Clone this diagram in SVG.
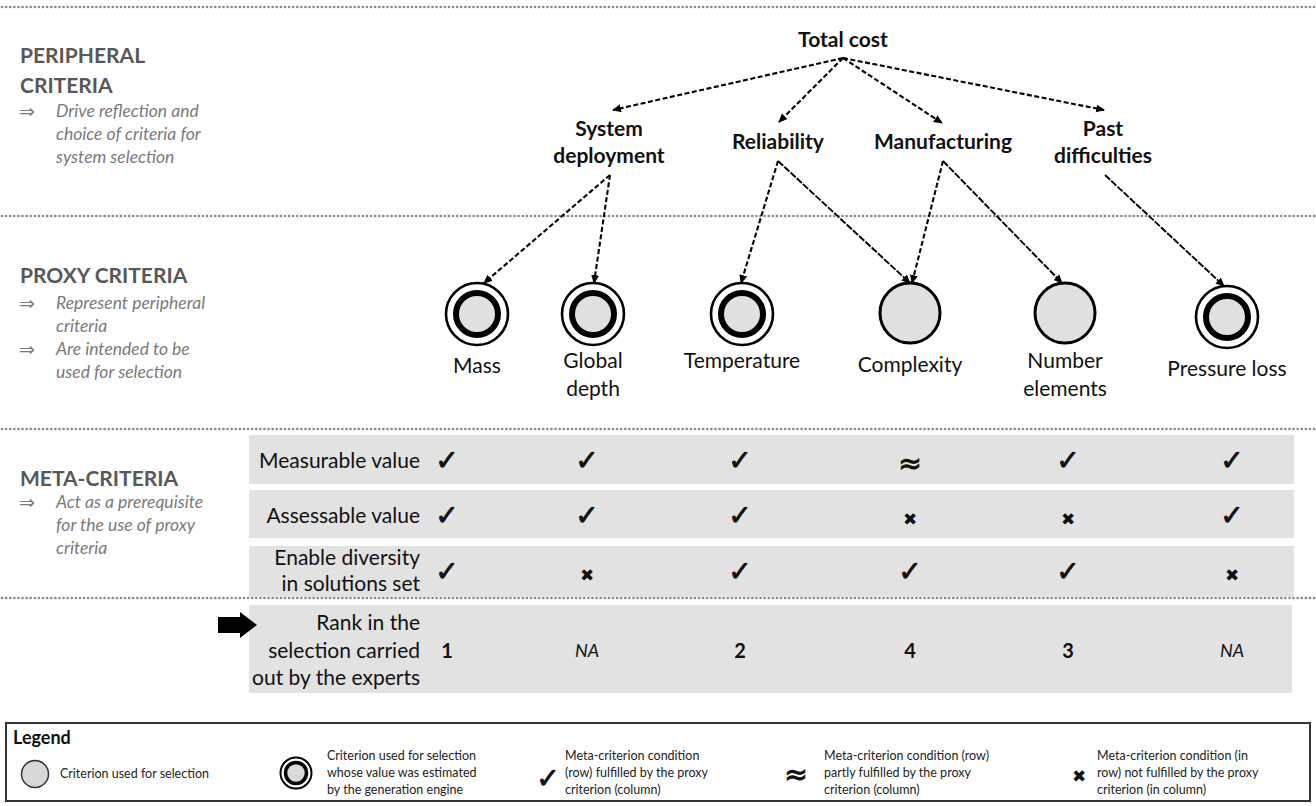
<svg xmlns="http://www.w3.org/2000/svg" width="1316" height="806" viewBox="0 0 1316 806">
<defs>
<marker id="ah" markerUnits="userSpaceOnUse" markerWidth="10" markerHeight="10" refX="8" refY="4" orient="auto">
<path d="M0,0 L9,4 L0,8 z" fill="#000"/>
</marker>
<style>
.dot{stroke:#8a8a8a;stroke-width:2.6;stroke-dasharray:0.1 4;stroke-linecap:round;fill:none}
.hd{font-family:Lato,"Liberation Sans",sans-serif;font-weight:bold;font-size:21px;fill:#585858}
.it{font-family:Lato,"Liberation Sans",sans-serif;font-style:italic;font-size:17.5px;fill:#7a7a7a}
.ar{font-family:"DejaVu Sans",sans-serif;font-size:19px;fill:#7a7a7a}
.pc{font-family:Lato,"Liberation Sans",sans-serif;font-weight:bold;font-size:21px;fill:#111;text-anchor:middle}
.lb{font-family:Lato,"Liberation Sans",sans-serif;font-size:21px;fill:#111;text-anchor:middle}
.rt{font-family:Lato,"Liberation Sans",sans-serif;font-size:21px;fill:#111;text-anchor:end}
.row{fill:#e2e2e2}
.sym{font-family:"DejaVu Sans",sans-serif;font-size:28px;fill:#111;stroke:#111;stroke-width:0.9;text-anchor:middle}
.x{font-family:"DejaVu Sans",sans-serif;font-size:17px;fill:#111;text-anchor:middle}
.rk{font-family:Lato,"Liberation Sans",sans-serif;font-weight:bold;font-size:20px;fill:#111;text-anchor:middle}
.na{font-family:Lato,"Liberation Sans",sans-serif;font-style:italic;font-size:18px;fill:#111;text-anchor:middle}
.lg{font-family:Lato,"Liberation Sans",sans-serif;font-size:12.5px;fill:#222}
.cd{stroke:#000;stroke-width:2.1;stroke-dasharray:5 2.5;fill:none}
.cs{stroke:#000;stroke-width:1.9;stroke-dasharray:7 1.5;fill:none}
.simple{fill:#e0e0e0;stroke:#000;stroke-width:3}
.outer{fill:#fff;stroke:#000;stroke-width:2.6}
.inner{fill:#e0e0e0;stroke:#000;stroke-width:6}
</style>
</defs>
<rect width="1316" height="806" fill="#fff"/>

<g id="separators">
<line class="dot" x1="2" y1="7" x2="1314" y2="7"/>
<line class="dot" x1="2" y1="216" x2="1314" y2="216"/>
<line class="dot" x1="2" y1="429" x2="1314" y2="429"/>
<line class="dot" x1="2" y1="598" x2="1314" y2="598"/>
</g>

<g id="section-peripheral">
<text class="hd" x="20" y="63">PERIPHERAL</text>
<text class="hd" x="20" y="93">CRITERIA</text>
<text class="ar" x="19" y="118">⇒</text>
<text class="it" x="56" y="117">Drive reflection and</text>
<text class="it" x="56" y="140">choice of criteria for</text>
<text class="it" x="56" y="163">system selection</text>
</g>

<g id="section-proxy">
<text class="hd" x="20" y="283">PROXY CRITERIA</text>
<text class="ar" x="19" y="310">⇒</text>
<text class="it" x="56" y="309">Represent peripheral</text>
<text class="it" x="56" y="332">criteria</text>
<text class="ar" x="19" y="356">⇒</text>
<text class="it" x="56" y="355">Are intended to be</text>
<text class="it" x="56" y="378">used for selection</text>
</g>

<g id="section-meta">
<text class="hd" x="20" y="486">META-CRITERIA</text>
<text class="ar" x="19" y="509" fill="#aaa">⇒</text>
<text class="it" x="56" y="508">Act as a prerequisite</text>
<text class="it" x="56" y="531">for the use of proxy</text>
<text class="it" x="56" y="554">criteria</text>
</g>

<g id="connectors">
<line class="cd" x1="843" y1="58" x2="613" y2="110" marker-end="url(#ah)"/>
<line class="cd" x1="843" y1="58" x2="779" y2="122" marker-end="url(#ah)"/>
<line class="cd" x1="843" y1="58" x2="942" y2="123" marker-end="url(#ah)"/>
<line class="cd" x1="843" y1="58" x2="1104" y2="110" marker-end="url(#ah)"/>
<line class="cd" x1="610" y1="175" x2="484" y2="283" marker-end="url(#ah)"/>
<line class="cd" x1="610" y1="175" x2="594" y2="283" marker-end="url(#ah)"/>
<line class="cd" x1="778" y1="161" x2="741" y2="283" marker-end="url(#ah)"/>
<line class="cs" x1="778" y1="161" x2="910" y2="283" marker-end="url(#ah)"/>
<line class="cd" x1="943" y1="161" x2="912" y2="283" marker-end="url(#ah)"/>
<line class="cs" x1="943" y1="161" x2="1062" y2="283" marker-end="url(#ah)"/>
<line class="cs" x1="1105" y1="175" x2="1224" y2="286" marker-end="url(#ah)"/>
</g>

<g id="node-total-cost"><text class="pc" x="843" y="47">Total cost</text></g>
<g id="node-system-deployment"><text class="pc" x="609" y="136">System</text><text class="pc" x="609" y="163">deployment</text></g>
<g id="node-reliability"><text class="pc" x="778" y="149">Reliability</text></g>
<g id="node-manufacturing"><text class="pc" x="943" y="149">Manufacturing</text></g>
<g id="node-past-difficulties"><text class="pc" x="1103" y="136">Past</text><text class="pc" x="1103" y="163">difficulties</text></g>

<g id="node-mass"><circle class="outer" cx="477" cy="314" r="31"/><circle class="inner" cx="477" cy="314" r="21"/><text class="lb" x="477" y="373">Mass</text></g>
<g id="node-global-depth"><circle class="outer" cx="593" cy="314" r="31"/><circle class="inner" cx="593" cy="314" r="21"/><text class="lb" x="593" y="368">Global</text><text class="lb" x="593" y="396">depth</text></g>
<g id="node-temperature"><circle class="outer" cx="742" cy="314" r="31"/><circle class="inner" cx="742" cy="314" r="21"/><text class="lb" x="742" y="368">Temperature</text></g>
<g id="node-complexity"><circle class="simple" cx="910" cy="313" r="30"/><text class="lb" x="910" y="372">Complexity</text></g>
<g id="node-number-elements"><circle class="simple" cx="1065" cy="313" r="30"/><text class="lb" x="1065" y="368">Number</text><text class="lb" x="1065" y="396">elements</text></g>
<g id="node-pressure-loss"><circle class="outer" cx="1227" cy="317" r="31"/><circle class="inner" cx="1227" cy="317" r="21"/><text class="lb" x="1227" y="376">Pressure loss</text></g>

<g id="table">
<rect class="row" x="249" y="435" width="1045" height="49"/>
<rect class="row" x="249" y="490" width="1045" height="48"/>
<rect class="row" x="249" y="546" width="1045" height="51"/>
<rect class="row" x="249" y="605" width="1043" height="88"/>
<text class="rt" x="420" y="468">Measurable value</text>
<text class="rt" x="420" y="523">Assessable value</text>
<text class="rt" x="420" y="565">Enable diversity</text>
<text class="rt" x="420" y="591">in solutions set</text>
<text class="rt" x="420" y="630">Rank in the</text>
<text class="rt" x="420" y="658">selection carried</text>
<text class="rt" x="420" y="685">out by the experts</text>
<polygon points="218,617 240,617 240,612 257,625 240,638 240,633 218,633" fill="#000"/>

<text class="sym" x="447" y="470">✓</text>
<text class="sym" x="587" y="470">✓</text>
<text class="sym" x="740" y="470">✓</text>
<text class="sym" x="910" y="473">≈</text>
<text class="sym" x="1068" y="470">✓</text>
<text class="sym" x="1232" y="470">✓</text>

<text class="sym" x="447" y="525">✓</text>
<text class="sym" x="587" y="525">✓</text>
<text class="sym" x="740" y="525">✓</text>
<text class="x" x="910" y="525">✖</text>
<text class="x" x="1068" y="525">✖</text>
<text class="sym" x="1232" y="525">✓</text>

<text class="sym" x="447" y="581">✓</text>
<text class="x" x="587" y="581">✖</text>
<text class="sym" x="740" y="581">✓</text>
<text class="sym" x="910" y="581">✓</text>
<text class="sym" x="1068" y="581">✓</text>
<text class="x" x="1232" y="581">✖</text>

<text class="rk" x="447" y="658">1</text>
<text class="na" x="587" y="657">NA</text>
<text class="rk" x="740" y="658">2</text>
<text class="rk" x="910" y="658">4</text>
<text class="rk" x="1068" y="658">3</text>
<text class="na" x="1232" y="657">NA</text>
</g>

<g id="legend">
<rect x="6" y="723" width="1304" height="78" fill="#fff" stroke="#333" stroke-width="2"/>
<text x="13" y="744" font-family="Lato,'Liberation Sans',sans-serif" font-weight="bold" font-size="18" fill="#111">Legend</text>
<circle cx="35" cy="774" r="13.5" fill="#d8d8d8" stroke="#333" stroke-width="1.5"/>
<text class="lg" x="60" y="778">Criterion used for selection</text>
<circle cx="296" cy="773" r="15.5" fill="#fff" stroke="#000" stroke-width="2"/>
<circle cx="296" cy="773" r="10.5" fill="#d8d8d8" stroke="#000" stroke-width="3.5"/>
<text class="lg" x="327" y="760">Criterion used for selection</text>
<text class="lg" x="327" y="777">whose value was estimated</text>
<text class="lg" x="327" y="794">by the generation engine</text>
<text class="sym" x="548" y="788" font-size="24">✓</text>
<text class="lg" x="565" y="760">Meta-criterion condition</text>
<text class="lg" x="565" y="777">(row) fulfilled by the proxy</text>
<text class="lg" x="565" y="794">criterion (column)</text>
<text class="sym" x="796" y="784" font-size="24">≈</text>
<text class="lg" x="824" y="760">Meta-criterion condition (row)</text>
<text class="lg" x="824" y="777">partly fulfilled by the proxy</text>
<text class="lg" x="824" y="794">criterion (column)</text>
<text class="x" x="1079" y="782" font-size="15">✖</text>
<text class="lg" x="1097" y="760">Meta-criterion condition (in</text>
<text class="lg" x="1097" y="777">row) not fulfilled by the proxy</text>
<text class="lg" x="1097" y="794">criterion (in column)</text>
</g>
</svg>
